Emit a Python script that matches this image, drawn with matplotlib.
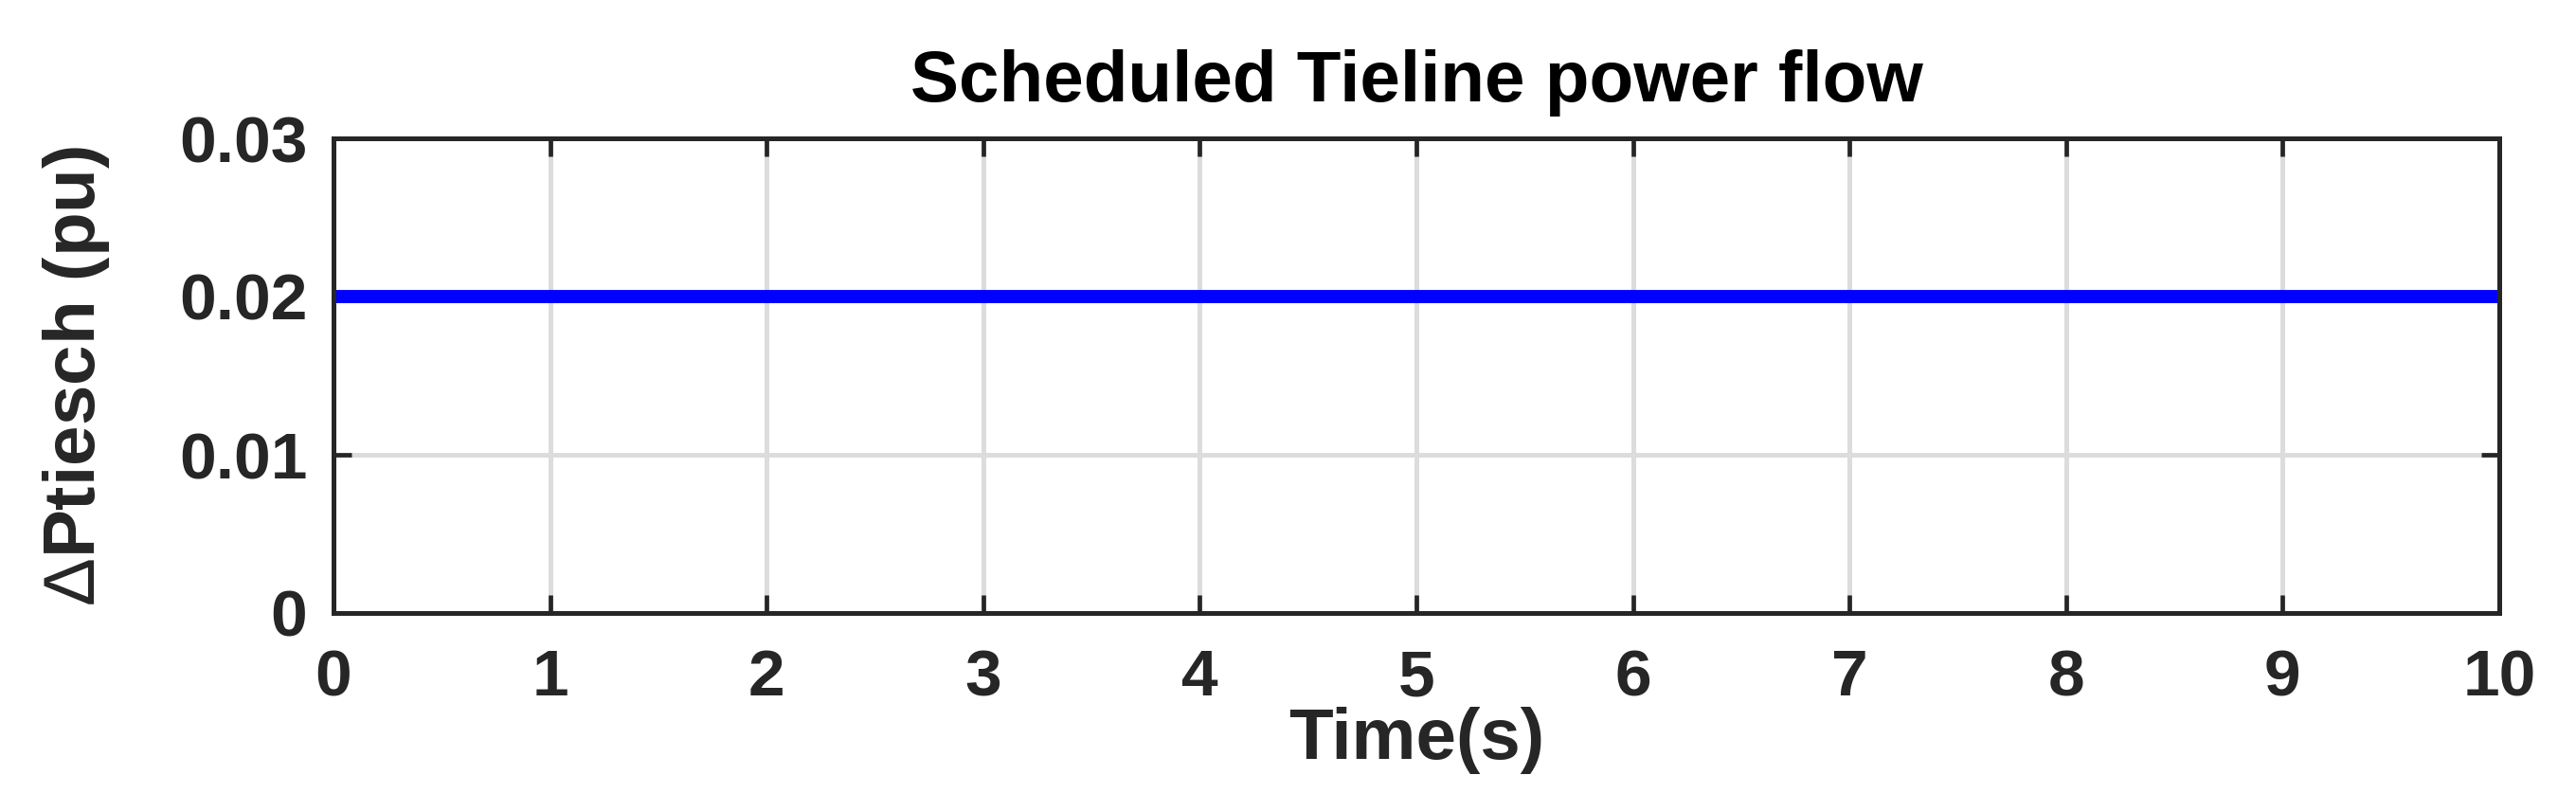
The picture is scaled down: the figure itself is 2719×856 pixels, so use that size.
import matplotlib
matplotlib.use("Agg")
import matplotlib.pyplot as plt

# Data
time_s = [0, 10]
dptie_sched = [0.02, 0.02]
x_ticks = [0, 1, 2, 3, 4, 5, 6, 7, 8, 9, 10]
y_ticks = [0, 0.01, 0.02, 0.03]
y_tick_labels = ["0", "0.01", "0.02", "0.03"]
title = "Scheduled Tieline power flow"
xlabel = "Time(s)"
ylabel = r"$\Delta$Ptiesch (pu)"

plt.rcParams['font.family'] = ['Liberation Sans', 'DejaVu Sans']
plt.rcParams['mathtext.fontset'] = 'custom'
plt.rcParams['mathtext.rm'] = 'Liberation Sans'
plt.rcParams['mathtext.it'] = 'Liberation Sans:italic'
plt.rcParams['mathtext.bf'] = 'Liberation Sans:bold'

W, H = 2719, 856
fig = plt.figure(figsize=(W / 100, H / 100), dpi=100)
left, right, top, bottom = 352, 2638, 146, 647
ax = fig.add_axes([left / W, 1 - bottom / H, (right - left) / W, (bottom - top) / H])

dark = '#262626'
ax.plot(time_s, dptie_sched, color='#0000ff', lw=10, solid_capstyle='butt', zorder=3)

ax.set_xlim(0, 10)
ax.set_ylim(0, 0.03)
ax.set_xticks(x_ticks)
ax.set_xticklabels([str(t) for t in x_ticks])
ax.set_yticks(y_ticks)
ax.set_yticklabels(y_tick_labels)

ax.grid(True, color='#dcdcdc', lw=3.6, zorder=0)
ax.set_axisbelow(True)

for s in ax.spines.values():
    s.set_linewidth(3.6)
    s.set_color(dark)
    s.set_zorder(5)

ax.tick_params(axis='both', direction='in', length=14, width=3.4, color=dark,
               labelsize=50, labelcolor=dark, top=True, right=True)
ax.tick_params(axis='x', pad=27)
ax.tick_params(axis='y', pad=20)
for lab in ax.get_xticklabels() + ax.get_yticklabels():
    lab.set_fontweight('bold')

ax.set_title(title, fontsize=55, fontweight='bold', color='black', pad=28)
ax.set_xlabel(xlabel, fontsize=55, fontweight='bold', color=dark)
ax.xaxis.set_label_coords(0.5, -0.198)
ax.set_ylabel(ylabel, fontsize=55, fontweight='bold', color=dark, va='center')
ax.yaxis.set_label_coords((80 - left) / (right - left), 0.5)

fig.savefig('out.png', dpi=100, facecolor='white')
